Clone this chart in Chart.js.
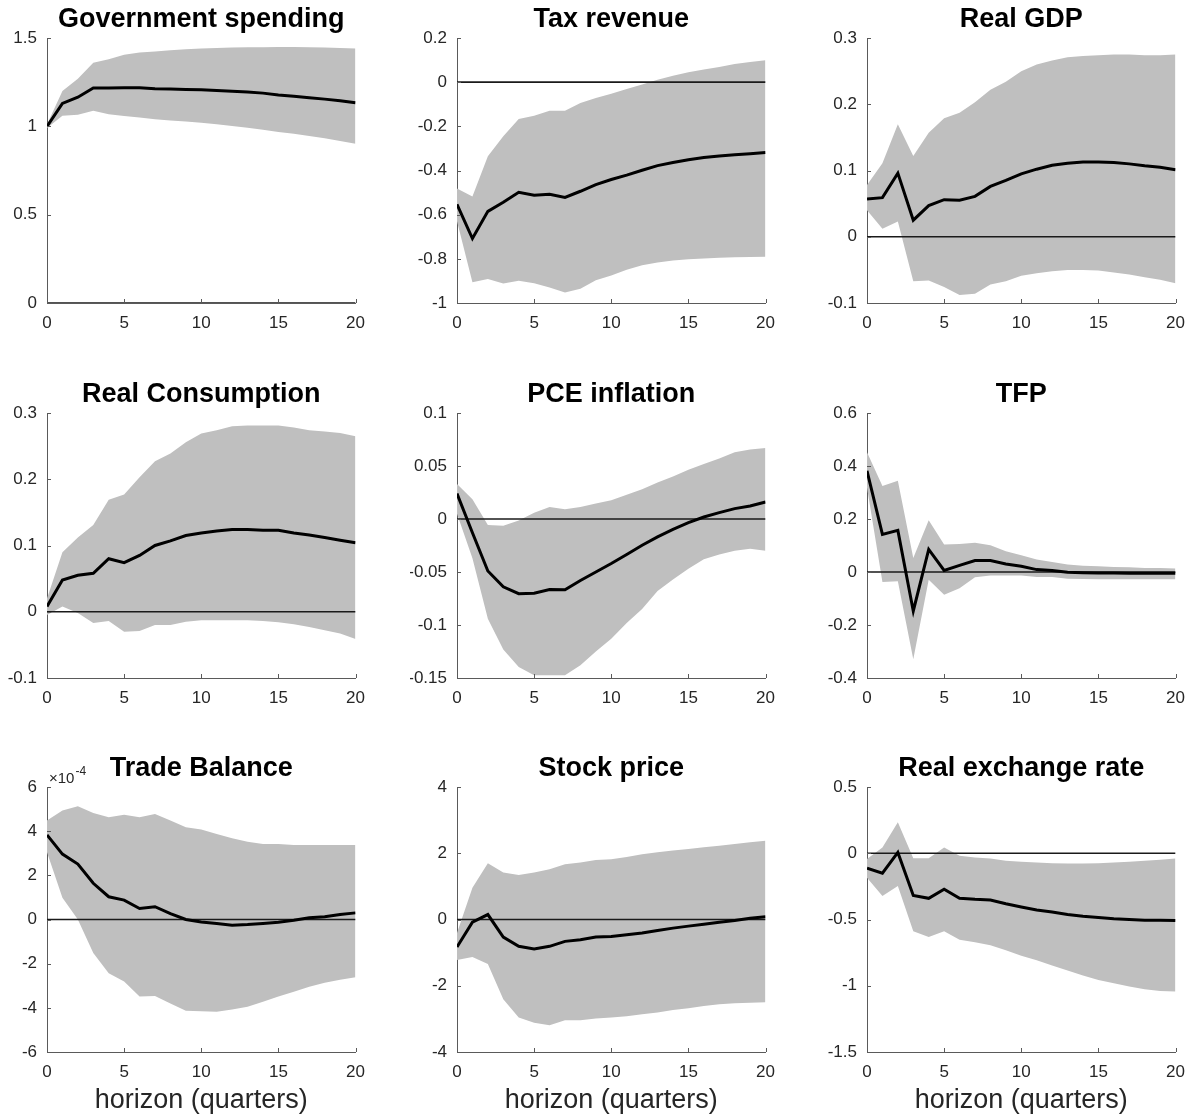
<!DOCTYPE html>
<html>
<head>
<meta charset="utf-8">
<title>Impulse responses to a government spending shock</title>
<script src="https://cdn.jsdelivr.net/npm/chart.js@4.4.0/dist/chart.umd.min.js"></script>
<style>
  html, body { margin: 0; padding: 0; background: #fff; overflow: hidden; }
  #figure { position: relative; width: 1193px; height: 1117px; }
  #figure canvas { position: absolute; }
</style>
</head>
<body>
<div id="figure"></div>
<script>
/* =================================
  data
==================================== */
const horizon = [0, 1, 2, 3, 4, 5, 6, 7, 8, 9, 10, 11, 12, 13, 14, 15, 16, 17, 18, 19, 20];

const govLine  = [1.00, 1.13, 1.165, 1.217, 1.217, 1.218, 1.218, 1.213, 1.211, 1.209, 1.207, 1.203, 1.199, 1.194, 1.188, 1.178, 1.170, 1.162, 1.154, 1.145, 1.133];
const govUpper = [1.01, 1.20, 1.27, 1.36, 1.38, 1.405, 1.418, 1.423, 1.43, 1.437, 1.441, 1.444, 1.446, 1.447, 1.448, 1.449, 1.449, 1.448, 1.446, 1.444, 1.44];
const govLower = [0.99, 1.06, 1.066, 1.088, 1.068, 1.058, 1.05, 1.04, 1.033, 1.027, 1.02, 1.012, 1.002, 0.992, 0.981, 0.968, 0.958, 0.945, 0.932, 0.917, 0.902];

const taxLine  = [-0.553, -0.708, -0.585, -0.544, -0.499, -0.512, -0.508, -0.522, -0.494, -0.464, -0.441, -0.421, -0.399, -0.378, -0.364, -0.351, -0.341, -0.334, -0.329, -0.324, -0.318];
const taxUpper = [-0.481, -0.518, -0.336, -0.245, -0.167, -0.152, -0.129, -0.129, -0.094, -0.072, -0.052, -0.031, -0.011, 0.011, 0.029, 0.045, 0.057, 0.069, 0.082, 0.091, 0.099];
const taxLower = [-0.63, -0.906, -0.891, -0.912, -0.899, -0.91, -0.93, -0.953, -0.935, -0.897, -0.876, -0.849, -0.829, -0.817, -0.808, -0.802, -0.798, -0.795, -0.793, -0.792, -0.79];

const gdpLine  = [0.057, 0.059, 0.096, 0.025, 0.047, 0.056, 0.055, 0.061, 0.076, 0.085, 0.095, 0.102, 0.108, 0.111, 0.113, 0.113, 0.112, 0.110, 0.107, 0.105, 0.101];
const gdpUpper = [0.078, 0.111, 0.170, 0.122, 0.157, 0.179, 0.187, 0.203, 0.222, 0.234, 0.250, 0.260, 0.266, 0.271, 0.273, 0.274, 0.275, 0.275, 0.274, 0.274, 0.275];
const gdpLower = [0.040, 0.012, 0.023, -0.067, -0.066, -0.076, -0.088, -0.086, -0.072, -0.067, -0.059, -0.055, -0.052, -0.050, -0.050, -0.051, -0.054, -0.057, -0.061, -0.065, -0.070];

const consLine  = [0.008, 0.048, 0.055, 0.058, 0.080, 0.074, 0.085, 0.100, 0.107, 0.115, 0.119, 0.122, 0.124, 0.124, 0.123, 0.123, 0.119, 0.116, 0.112, 0.108, 0.104];
const consUpper = [0.020, 0.090, 0.112, 0.131, 0.169, 0.177, 0.203, 0.227, 0.239, 0.256, 0.269, 0.274, 0.280, 0.281, 0.281, 0.281, 0.278, 0.274, 0.272, 0.270, 0.265];
const consLower = [-0.005, 0.008, -0.002, -0.017, -0.014, -0.030, -0.029, -0.020, -0.020, -0.015, -0.013, -0.013, -0.013, -0.013, -0.014, -0.016, -0.019, -0.023, -0.028, -0.033, -0.041];

const pceLine  = [0.024, -0.013, -0.049, -0.064, -0.0705, -0.070, -0.0665, -0.0668, -0.058, -0.050, -0.042, -0.0335, -0.0247, -0.0168, -0.0098, -0.0035, 0.0019, 0.006, 0.0098, 0.0123, 0.016];
const pceUpper = [0.033, 0.0187, -0.0057, -0.0063, -0.0013, 0.006, 0.0114, 0.0092, 0.0114, 0.0146, 0.0177, 0.0228, 0.028, 0.0345, 0.040, 0.0465, 0.052, 0.057, 0.063, 0.0655, 0.067];
const pceLower = [0.005, -0.037, -0.094, -0.123, -0.1396, -0.1475, -0.1475, -0.1475, -0.138, -0.125, -0.113, -0.098, -0.085, -0.068, -0.057, -0.047, -0.038, -0.0335, -0.030, -0.028, -0.030];

const tfpLine  = [0.382, 0.142, 0.157, -0.147, 0.085, 0.006, 0.025, 0.043, 0.043, 0.030, 0.022, 0.009, 0.006, -0.001, -0.003, -0.004, -0.004, -0.005, -0.005, -0.005, -0.005];
const tfpUpper = [0.452, 0.325, 0.344, 0.053, 0.195, 0.104, 0.106, 0.110, 0.101, 0.078, 0.063, 0.047, 0.038, 0.028, 0.024, 0.022, 0.019, 0.018, 0.015, 0.015, 0.013];
const tfpLower = [0.319, -0.038, -0.035, -0.329, -0.029, -0.086, -0.061, -0.020, -0.013, -0.013, -0.013, -0.019, -0.019, -0.025, -0.026, -0.027, -0.027, -0.027, -0.027, -0.027, -0.027];

// trade balance is in units of 10^-4
const tradeLine  = [3.83, 2.96, 2.51, 1.64, 1.03, 0.88, 0.50, 0.58, 0.27, 0.00, -0.11, -0.18, -0.26, -0.23, -0.18, -0.12, -0.03, 0.08, 0.12, 0.23, 0.30];
const tradeUpper = [4.48, 4.94, 5.13, 4.82, 4.63, 4.74, 4.63, 4.78, 4.48, 4.18, 4.07, 3.87, 3.68, 3.52, 3.42, 3.42, 3.37, 3.37, 3.37, 3.37, 3.37];
const tradeLower = [3.04, 0.99, 0.00, -1.52, -2.43, -2.81, -3.49, -3.46, -3.80, -4.13, -4.15, -4.18, -4.07, -3.95, -3.72, -3.49, -3.27, -3.04, -2.86, -2.73, -2.61];

const stockLine  = [-0.83, -0.08, 0.15, -0.53, -0.81, -0.89, -0.81, -0.66, -0.61, -0.53, -0.51, -0.46, -0.41, -0.33, -0.26, -0.20, -0.14, -0.08, -0.03, 0.04, 0.08];
const stockUpper = [-0.41, 0.96, 1.70, 1.42, 1.34, 1.42, 1.52, 1.67, 1.72, 1.80, 1.82, 1.89, 1.97, 2.03, 2.08, 2.13, 2.18, 2.23, 2.28, 2.33, 2.38];
const stockLower = [-1.22, -1.13, -1.34, -2.41, -2.96, -3.12, -3.19, -3.04, -3.04, -2.99, -2.96, -2.92, -2.86, -2.81, -2.73, -2.68, -2.61, -2.56, -2.53, -2.51, -2.50];

const rerLine  = [-0.113, -0.15, 0.006, -0.318, -0.34, -0.272, -0.34, -0.348, -0.353, -0.381, -0.406, -0.429, -0.444, -0.462, -0.475, -0.485, -0.495, -0.50, -0.505, -0.505, -0.508];
const rerUpper = [-0.044, 0.044, 0.234, -0.037, -0.037, 0.044, -0.019, -0.032, -0.039, -0.057, -0.065, -0.070, -0.075, -0.077, -0.077, -0.075, -0.070, -0.065, -0.057, -0.049, -0.039];
const rerLower = [-0.184, -0.323, -0.247, -0.589, -0.632, -0.589, -0.652, -0.672, -0.695, -0.733, -0.773, -0.808, -0.847, -0.885, -0.923, -0.956, -0.981, -1.006, -1.027, -1.039, -1.044];

// y axis limits [min, max, step]
const govAxis   = [0, 1.5, 0.5];
const taxAxis   = [-1, 0.2, 0.2];
const gdpAxis   = [-0.1, 0.3, 0.1];
const consAxis  = [-0.1, 0.3, 0.1];
const pceAxis   = [-0.15, 0.1, 0.05];
const tfpAxis   = [-0.4, 0.6, 0.2];
const tradeAxis = [-6, 6, 2];
const stockAxis = [-4, 4, 2];
const rerAxis   = [-1.5, 0.5, 0.5];
const xAxis     = [0, 20, 5];

/* =================================
  layout
==================================== */
const colLeft = [47, 457, 867];
const rowTop = [38, 413, 787];
const plotW = 312;
const plotH = 265;
const yAxisW = 47;
const topSpace = 38;
const rightSpace = 16;

const bandColor = '#bfbfbf';
const axisColor = '#5a5a5a';
const textColor = '#262626';
const fontFamily = '"Liberation Sans", Arial, Helvetica, sans-serif';

const panels = [
    { title: 'Government spending', line: govLine, upper: govUpper, lower: govLower, axis: govAxis },
    { title: 'Tax revenue', line: taxLine, upper: taxUpper, lower: taxLower, axis: taxAxis },
    { title: 'Real GDP', line: gdpLine, upper: gdpUpper, lower: gdpLower, axis: gdpAxis },
    { title: 'Real Consumption', line: consLine, upper: consUpper, lower: consLower, axis: consAxis },
    { title: 'PCE inflation', line: pceLine, upper: pceUpper, lower: pceLower, axis: pceAxis },
    { title: 'TFP', line: tfpLine, upper: tfpUpper, lower: tfpLower, axis: tfpAxis },
    { title: 'Trade Balance', line: tradeLine, upper: tradeUpper, lower: tradeLower, axis: tradeAxis, exponent: '-4' },
    { title: 'Stock price', line: stockLine, upper: stockUpper, lower: stockLower, axis: stockAxis },
    { title: 'Real exchange rate', line: rerLine, upper: rerUpper, lower: rerLower, axis: rerAxis }
];

/* =================================
  titles, labels and inward ticks
==================================== */
const panelText = {
    id: 'panelText',
    afterDraw(chart, args, opts) {
        const ctx = chart.ctx;
        const area = chart.chartArea;
        const mid = (area.left + area.right) / 2;
        const xs = chart.scales.x;
        const ys = chart.scales.y;
        ctx.save();

        // inward tick marks like matlab
        ctx.strokeStyle = axisColor;
        ctx.lineWidth = 1;
        ctx.beginPath();
        xs.ticks.forEach(t => {
            const px = Math.round(xs.getPixelForValue(t.value)) + 0.5;
            ctx.moveTo(px, area.bottom);
            ctx.lineTo(px, area.bottom - 4);
        });
        ys.ticks.forEach(t => {
            const py = Math.round(ys.getPixelForValue(t.value)) + 0.5;
            ctx.moveTo(area.left, py);
            ctx.lineTo(area.left + 4, py);
        });
        ctx.stroke();

        // title
        ctx.fillStyle = '#000';
        ctx.textAlign = 'center';
        ctx.textBaseline = 'alphabetic';
        ctx.font = 'bold 27px ' + fontFamily;
        ctx.fillText(opts.title, mid, area.top - 11);

        // x label on the bottom row
        if (opts.xlabel) {
            ctx.fillStyle = textColor;
            ctx.font = '27px ' + fontFamily;
            ctx.fillText(opts.xlabel, mid, area.bottom + 56);
        }

        // axis exponent
        if (opts.exponent) {
            ctx.fillStyle = textColor;
            ctx.textAlign = 'left';
            ctx.font = '15px ' + fontFamily;
            ctx.fillText('\u00d710', area.left + 2, area.top - 4);
            const w = ctx.measureText('\u00d710').width;
            ctx.font = '12px ' + fontFamily;
            ctx.fillText(opts.exponent, area.left + 3 + w, area.top - 12);
        }
        ctx.restore();
    }
};

/* =================================
  charts
==================================== */
const figure = document.getElementById('figure');

const toPoints = values => values.map((v, i) => ({ x: horizon[i], y: v }));
const tickText = v => String(+Number(v).toFixed(4));

panels.forEach((p, i) => {
    const row = Math.floor(i / 3);
    const col = i % 3;
    const bottomSpace = row === 2 ? 65 : 42;
    const canvas = document.createElement('canvas');
    canvas.width = yAxisW + plotW + rightSpace;
    canvas.height = topSpace + plotH + bottomSpace;
    canvas.style.left = (colLeft[col] - yAxisW) + 'px';
    canvas.style.top = (rowTop[row] - topSpace) + 'px';
    figure.appendChild(canvas);

    // chart.js paints the first dataset last, so the response line goes first
    new Chart(canvas, {
        type: 'line',
        data: {
            datasets: [
                {
                    data: toPoints(p.line),
                    borderColor: '#000',
                    borderWidth: 3,
                    pointRadius: 0,
                    tension: 0,
                    fill: false
                },
                {
                    data: [{ x: horizon[0], y: 0 }, { x: horizon[horizon.length - 1], y: 0 }],
                    borderColor: '#1a1a1a',
                    borderWidth: 1.6,
                    pointRadius: 0,
                    fill: false
                },
                {
                    data: toPoints(p.upper),
                    borderWidth: 0,
                    pointRadius: 0,
                    fill: false
                },
                {
                    data: toPoints(p.lower),
                    borderWidth: 0,
                    pointRadius: 0,
                    backgroundColor: bandColor,
                    fill: '-1'
                }
            ]
        },
        options: {
            responsive: false,
            animation: false,
            events: [],
            layout: {
                padding: { top: topSpace, right: rightSpace, bottom: 0, left: 0 }
            },
            scales: {
                x: {
                    type: 'linear',
                    min: xAxis[0],
                    max: xAxis[1],
                    z: 1,
                    afterFit: scale => { scale.height = bottomSpace; },
                    grid: { drawOnChartArea: false, drawTicks: false },
                    border: { display: true, color: axisColor, width: 1 },
                    ticks: {
                        stepSize: xAxis[2],
                        padding: 10,
                        color: textColor,
                        font: { family: fontFamily, size: 17 },
                        maxRotation: 0,
                        callback: tickText
                    }
                },
                y: {
                    type: 'linear',
                    min: p.axis[0],
                    max: p.axis[1],
                    z: 1,
                    afterFit: scale => { scale.width = yAxisW; },
                    grid: { drawOnChartArea: false, drawTicks: false },
                    border: { display: true, color: axisColor, width: 1 },
                    ticks: {
                        stepSize: p.axis[2],
                        padding: 10,
                        color: textColor,
                        font: { family: fontFamily, size: 17 },
                        callback: tickText
                    }
                }
            },
            plugins: {
                legend: { display: false },
                tooltip: { enabled: false },
                panelText: {
                    title: p.title,
                    xlabel: row === 2 ? 'horizon (quarters)' : '',
                    exponent: p.exponent || ''
                }
            }
        },
        plugins: [panelText]
    });
});
</script>
</body>
</html>
